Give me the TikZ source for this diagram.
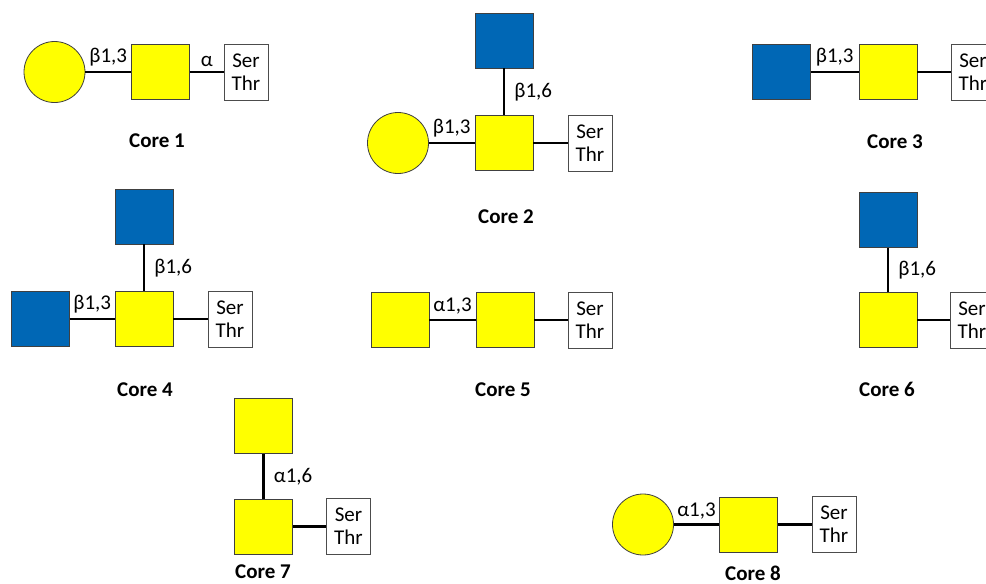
\documentclass[tikz,border=0pt]{standalone}
\usepackage{fontspec}
\setmainfont{Carlito}
\definecolor{galyellow}{RGB}{255,255,0}
\definecolor{glcblue}{RGB}{0,103,181}

\begin{document}
\begin{tikzpicture}[x=1pt, y=-1pt,
    font=\fontsize{21}{23}\selectfont,
    gal/.style={circle, draw=black!75, line width=0.8pt, fill=galyellow, minimum size=61pt, inner sep=0pt},
    galnac/.style={rectangle, draw=black!75, line width=0.8pt, fill=galyellow, minimum width=58pt, minimum height=55pt, inner sep=0pt},
    glcnac/.style={rectangle, draw=black!75, line width=0.8pt, fill=glcblue, minimum width=58pt, minimum height=55pt, inner sep=0pt},
    serthr/.style={rectangle, draw=black!70, line width=0.8pt, fill=white, minimum width=44pt, minimum height=56pt, align=center, inner sep=0pt},
    link/.style={black, line width=2.8pt},
    bond/.style={inner sep=1pt},
    core/.style={font=\fontsize{21}{23}\selectfont\bfseries, inner sep=1pt}]
    \useasboundingbox (0,0) rectangle (986,584);
    \clip (0,0) rectangle (986,584);

    \node[gal] (c1gal) at (54.5,72) {};
    \node[galnac] (c1gn) at (160.5,72) {};
    \node[serthr] (c1st) at (246,72) {Ser\\Thr};
    \draw[link] (c1gal) -- node[bond, above=3pt] {β1,3} (c1gn);
    \draw[link] (c1gn) -- node[bond, above=3pt] {α} (c1st);
    \node[core] (core1) at (157,141) {Core 1};

    \node[glcnac] (c2glc) at (504,40.5) {};
    \node[galnac] (c2gn) at (504,143) {};
    \node[gal] (c2gal) at (398,143) {};
    \node[serthr] (c2st) at (590,143) {Ser\\Thr};
    \draw[link] (c2glc) -- node[bond, right=8pt] {β1,6} (c2gn);
    \draw[link] (c2gal) -- node[bond, above=3pt] {β1,3} (c2gn);
    \draw[link] (c2gn) -- (c2st);
    \node[core] (core2) at (506,217) {Core 2};

    \node[glcnac] (c3glc) at (781.5,72) {};
    \node[galnac] (c3gn) at (888,72) {};
    \node[serthr] (c3st) at (973,72) {Ser\\Thr};
    \draw[link] (c3glc) -- node[bond, above=3pt] {β1,3} (c3gn);
    \draw[link] (c3gn) -- (c3st);
    \node[core] (core3) at (895,142) {Core 3};

    \node[glcnac] (c4glc6) at (144,216.5) {};
    \node[glcnac] (c4glc3) at (40.5,319) {};
    \node[galnac] (c4gn) at (144,319) {};
    \node[serthr] (c4st) at (230,319) {Ser\\Thr};
    \draw[link] (c4glc6) -- node[bond, right=8pt] {β1,6} (c4gn);
    \draw[link] (c4glc3) -- node[bond, above=3pt] {β1,3} (c4gn);
    \draw[link] (c4gn) -- (c4st);
    \node[core] (core4) at (145,390) {Core 4};

    \node[galnac] (c5gn3) at (400,320) {};
    \node[galnac] (c5gn) at (505,320) {};
    \node[serthr] (c5st) at (590,320) {Ser\\Thr};
    \draw[link] (c5gn3) -- node[bond, above=3pt] {α1,3} (c5gn);
    \draw[link] (c5gn) -- (c5st);
    \node[core] (core5) at (503,390) {Core 5};

    \node[glcnac] (c6glc) at (888,220) {};
    \node[galnac] (c6gn) at (888,320) {};
    \node[serthr] (c6st) at (972,320) {Ser\\Thr};
    \draw[link] (c6glc) -- node[bond, right=8pt] {β1,6} (c6gn);
    \draw[link] (c6gn) -- (c6st);
    \node[core] (core6) at (887,389) {Core 6};

    \node[galnac] (c7gn6) at (263.5,426) {};
    \node[galnac] (c7gn) at (263.5,526.5) {};
    \node[serthr] (c7st) at (348.5,526.5) {Ser\\Thr};
    \draw[link] (c7gn6) -- node[bond, right=8pt] {α1,6} (c7gn);
    \draw[link] (c7gn) -- (c7st);
    \node[core] (core7) at (263,572) {Core 7};

    \node[gal] (c8gal) at (643,524.5) {};
    \node[galnac] (c8gn) at (748.5,524.5) {};
    \node[serthr] (c8st) at (834,524.5) {Ser\\Thr};
    \draw[link] (c8gal) -- node[bond, above=3pt] {α1,3} (c8gn);
    \draw[link] (c8gn) -- (c8st);
    \node[core] (core8) at (753,573) {Core 8};
\end{tikzpicture}
\end{document}
